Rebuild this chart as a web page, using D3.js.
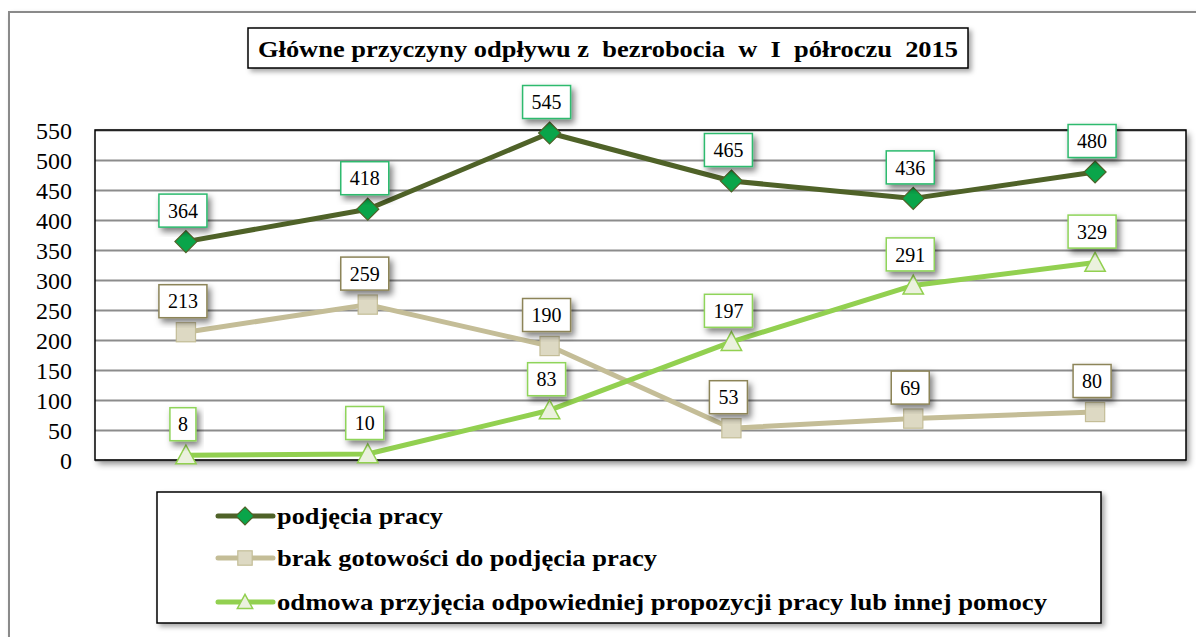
<!DOCTYPE html>
<html><head><meta charset="utf-8">
<script src="https://cdn.jsdelivr.net/npm/d3@7"></script>
<style>
html,body{margin:0;padding:0;background:#fff;}
</style></head>
<body>
<svg id="chart" width="1196" height="637"></svg>
<script>
const categories = ["I","II","III","IV","V","VI"];
const seriesNames = ["podjęcia pracy","brak gotowości do podjęcia pracy","odmowa przyjęcia odpowiedniej propozycji pracy lub innej pomocy"];
const podjeciaPracy = [364,418,545,465,436,480];
const brakGotowosci = [213,259,190,53,69,80];
const odmowa = [8,10,83,197,291,329];
const yTicks = [0,50,100,150,200,250,300,350,400,450,500,550];
const titleText = "Główne przyczyny odpływu z  bezrobocia  w  I  półroczu  2015";
const legendWidths = [166, 380, 770];

const FONT = '"Liberation Serif", "Times New Roman", Times, "DejaVu Serif", serif';

const styles = [
  {line:"#4f6228", fill:"#0aa54a", stroke:"#4f6228", box:"#2dba6e", shape:"diamond"},
  {line:"#c4bd97", fill:"#ddd9c3", stroke:"#c4bd97", box:"#8c8458", shape:"square"},
  {line:"#92d050", fill:"#ebf1de", stroke:"#92d050", box:"#8fd45a", shape:"triangle"}
];
const series = [podjeciaPracy, brakGotowosci, odmowa].map((v,i)=>({name:seriesNames[i], values:v, st:styles[i]}));

const svg = d3.select("#chart");
const defs = svg.append("defs");
function shadow(id, dx, dy, sd, op){
  const f = defs.append("filter").attr("id",id).attr("x","-30%").attr("y","-30%").attr("width","160%").attr("height","160%");
  f.append("feDropShadow").attr("dx",dx).attr("dy",dy).attr("stdDeviation",sd).attr("flood-color","#000").attr("flood-opacity",op);
}
shadow("sh", 3, 4, 3, 0.45);
shadow("shBig", 3, 3, 2.5, 0.35);
shadow("shLbl", 3, 4, 3, 0.5);

// outer chart frame
svg.append("rect").attr("x",9).attr("y",12).attr("width",1200).attr("height",640)
  .attr("fill","#fff").attr("stroke","#8a8a8a").attr("stroke-width",2).attr("filter","url(#shBig)");

const m = {left:95, right:1186, top:130, bottom:460};
const x = d3.scalePoint().domain(categories).range([m.left, m.right]).padding(0.5);
const y = d3.scaleLinear().domain([0,550]).range([m.bottom, m.top]);

// plot area
svg.append("rect").attr("x",m.left).attr("y",m.top).attr("width",m.right-m.left).attr("height",m.bottom-m.top)
  .attr("fill","#fff").attr("stroke","none").attr("filter","url(#sh)");

// gridlines
const grid = d3.axisLeft(y).tickValues(yTicks).tickSize(-(m.right-m.left)).tickFormat("");
const gg = svg.append("g").attr("transform",`translate(${m.left},0)`).call(grid);
gg.select(".domain").remove();
gg.selectAll(".tick line").attr("stroke","#8c8c8c").attr("stroke-width",2);

svg.append("rect").attr("x",m.left).attr("y",m.top).attr("width",m.right-m.left).attr("height",m.bottom-m.top)
  .attr("fill","none").attr("stroke","#000").attr("stroke-width",1.5);

// y axis labels
const ya = d3.axisLeft(y).tickValues(yTicks).tickSize(0).tickPadding(23);
const yg = svg.append("g").attr("transform",`translate(${m.left},0)`).call(ya);
yg.select(".domain").remove();
yg.attr("font-family", null);
yg.selectAll("text").style("font-family",FONT).attr("font-size",24).attr("fill","#000").attr("dy","0.36em");

function marker(sel, shape, st, size){
  if(shape==="diamond"){
    const s = size;
    return sel.append("path").attr("d",`M0,${-s}L${s},0L0,${s}L${-s},0Z`).attr("fill",st.fill).attr("stroke",st.stroke).attr("stroke-width",1.2);
  }
  if(shape==="square"){
    const s = size*0.8;
    return sel.append("rect").attr("x",-s).attr("y",-s).attr("width",2*s).attr("height",2*s).attr("fill",st.fill).attr("stroke",st.stroke).attr("stroke-width",1.2);
  }
  const s = size*0.85;
  return sel.append("path").attr("d",`M0,${-s}L${s},${s*0.85}L${-s},${s*0.85}Z`).attr("fill",st.fill).attr("stroke",st.stroke).attr("stroke-width",1.5);
}

const line = d3.line().x((d,i)=>x(categories[i])).y(d=>y(d));
series.forEach(s=>{
  svg.append("path").datum(s.values).attr("d",line).attr("fill","none")
    .attr("stroke",s.st.line).attr("stroke-width",5).attr("stroke-linejoin","round");
});
series.forEach(s=>{
  s.values.forEach((v,i)=>{
    const g = svg.append("g").attr("transform",`translate(${x(categories[i])},${y(v)})`);
    marker(g, s.st.shape, s.st, s.st.shape==="diamond" ? 11 : 12);
  });
});

// data labels
series.forEach(s=>{
  s.values.forEach((v,i)=>{
    const cx = x(categories[i]) - 3, cy = y(v) - 31;
    const txt = String(v);
    const w = txt.length===1 ? 26 : (txt.length===2 ? 38 : 48), h = 33;
    const g = svg.append("g");
    g.append("rect").attr("x",cx-w/2).attr("y",cy-h/2).attr("width",w).attr("height",h)
      .attr("fill","#fff").attr("stroke",s.st.box).attr("stroke-width",1.5).attr("filter","url(#shLbl)");
    g.append("text").attr("x",cx).attr("y",cy).attr("dy","0.36em").attr("text-anchor","middle")
      .style("font-family",FONT).attr("font-size",20).attr("fill","#000").text(txt);
  });
});

// title
const tb = {x:248, y:28, w:720, h:40};
svg.append("rect").attr("x",tb.x).attr("y",tb.y).attr("width",tb.w).attr("height",tb.h)
  .attr("fill","#fff").attr("stroke","#000").attr("stroke-width",1.5).attr("filter","url(#shBig)");
svg.append("text").attr("x",258).attr("y",tb.y+tb.h/2).attr("dy","0.36em")
  .attr("textLength",700).attr("lengthAdjust","spacingAndGlyphs")
  .style("font-family",FONT).attr("font-size",24).attr("font-weight","bold").style("white-space","pre").text(titleText);

// legend
const lb = {x:157, y:492, w:944, h:131};
svg.append("rect").attr("x",lb.x).attr("y",lb.y).attr("width",lb.w).attr("height",lb.h)
  .attr("fill","#fff").attr("stroke","#000").attr("stroke-width",1.5).attr("filter","url(#shBig)");
const rowsY = [516, 558, 602];
series.forEach((s,i)=>{
  const g = svg.append("g").attr("transform",`translate(0,${rowsY[i]})`);
  g.append("line").attr("x1",218).attr("x2",273).attr("y1",0).attr("y2",0).attr("stroke",s.st.line).attr("stroke-width",5).attr("stroke-linecap","round");
  const mg = g.append("g").attr("transform","translate(245,0)");
  marker(mg, s.st.shape, s.st, 9);
  g.append("text").attr("x",277).attr("y",0).attr("dy","0.34em")
    .attr("textLength",legendWidths[i]).attr("lengthAdjust","spacingAndGlyphs")
    .style("font-family",FONT).attr("font-size",24).attr("font-weight","bold").text(s.name);
});
</script>
</body></html>
